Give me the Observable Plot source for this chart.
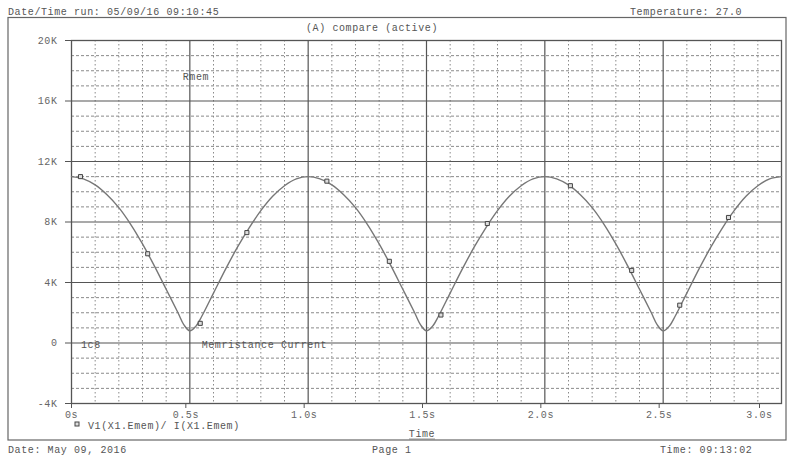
<!DOCTYPE html>
<html>
<head>
<meta charset="utf-8">
<script src="https://cdn.jsdelivr.net/npm/d3@7"></script>
<script src="https://cdn.jsdelivr.net/npm/@observablehq/plot@0.6"></script>
<style>
  html, body { margin: 0; padding: 0; background: #fff; }
  #chart { width: 790px; height: 458px; }
</style>
</head>
<body>
<div id="chart"></div>
<script>
// ---- data (time in seconds, value in K) ----
const timeS = [0, 0.05, 0.1, 0.15, 0.2, 0.25, 0.3, 0.35, 0.4, 0.45, 0.475, 0.5, 0.525, 0.55, 0.6, 0.65, 0.7, 0.75, 0.8, 0.85, 0.9, 0.95,
  1.0, 1.05, 1.1, 1.15, 1.2, 1.25, 1.3, 1.35, 1.4, 1.45, 1.475, 1.5, 1.525, 1.55, 1.6, 1.65, 1.7, 1.75, 1.8, 1.85, 1.9, 1.95,
  2.0, 2.05, 2.1, 2.15, 2.2, 2.25, 2.3, 2.35, 2.4, 2.45, 2.475, 2.5, 2.525, 2.55, 2.6, 2.65, 2.7, 2.75, 2.8, 2.85, 2.9, 2.95, 3.0];
const rmemK = [11.0, 10.85, 10.45, 9.8, 8.95, 7.85, 6.55, 5.1, 3.55, 2.0, 1.2, 0.8, 1.1, 1.75, 3.3, 4.85, 6.3, 7.6, 8.75, 9.7, 10.4, 10.85,
  11.0, 10.85, 10.45, 9.8, 8.95, 7.85, 6.55, 5.1, 3.55, 2.0, 1.2, 0.8, 1.1, 1.75, 3.3, 4.85, 6.3, 7.6, 8.75, 9.7, 10.4, 10.85,
  11.0, 10.85, 10.45, 9.8, 8.95, 7.85, 6.55, 5.1, 3.55, 2.0, 1.2, 0.8, 1.1, 1.75, 3.3, 4.85, 6.3, 7.6, 8.75, 9.7, 10.4, 10.85, 11.0];

const markerT = [0.038, 0.322, 0.544, 0.741, 1.079, 1.343, 1.561, 1.757, 2.108, 2.367, 2.57, 2.776];
const markerV = [11.0, 5.9, 1.3, 7.3, 10.7, 5.4, 1.85, 7.9, 10.4, 4.8, 2.5, 8.3];

const xTicks = [0, 0.5, 1.0, 1.5, 2.0, 2.5, 3.0];
const xTickLabels = ["0s", "0.5s", "1.0s", "1.5s", "2.0s", "2.5s", "3.0s"];
const yTicks = [-4, 0, 4, 8, 12, 16, 20];
const yTickLabels = ["-4K", "0", "4K", "8K", "12K", "16K", "20K"];

const labelText = ["Rmem", "Memristance Current", "1c8"];
const labelX = [0.47, 0.55, 0.04];
const labelY = [17.6, -0.1, -0.1];

const headerTexts = ["Date/Time run: 05/09/16 09:10:45", "Temperature: 27.0", "(A) compare (active)"];
const footerTexts = ["Date: May 09, 2016", "Page 1", "Time: 09:13:02"];
const legendText = "V1(X1.Emem)/ I(X1.Emem)";
const axisTitle = "Time";

// ---- derived tables ----
const curve = timeS.map((t, i) => ({t, v: rmemK[i]}));
const markers = markerT.map((t, i) => ({t, v: markerV[i]}));
const labels = labelText.map((s, i) => ({s, x: labelX[i], y: labelY[i]}));
const minorX = d3.range(0, 31).map(i => i / 10).filter(v => Math.round(v * 10) % 5 !== 0);
const minorY = d3.range(-4, 21).filter(v => v % 4 !== 0);
const majorX = xTicks.slice(1, -1);
const majorY = yTicks.slice(1, -1);
const fmtX = d => xTickLabels[xTicks.indexOf(d)];
const fmtY = d => yTickLabels[yTicks.indexOf(d)];

const FONT = "'Liberation Mono', 'DejaVu Sans Mono', monospace";
const FS = 10;
const LS = "0.6px";
const GRID = "#8a8a8a";
const MAJOR = "#555";

const chart = Plot.plot({
  width: 790,
  height: 458,
  marginLeft: 71,
  marginRight: 9,
  marginTop: 40,
  marginBottom: 55,
  x: {domain: [0, 3]},
  y: {domain: [-4, 20]},
  style: {fontFamily: FONT, fontSize: FS + "px", letterSpacing: LS, color: "#555", background: "#fff", overflow: "visible"},
  marks: [
    Plot.ruleX(minorX, {stroke: GRID, strokeDasharray: "1.5,2.5", strokeWidth: 1}),
    Plot.ruleY(minorY, {stroke: GRID, strokeDasharray: "3,2", strokeWidth: 1}),
    Plot.ruleX(majorX, {stroke: MAJOR, strokeWidth: 1.2}),
    Plot.ruleY(majorY, {stroke: MAJOR, strokeWidth: 1.2}),
    Plot.frame({stroke: MAJOR, strokeWidth: 1.3}),
    Plot.axisY(yTicks, {tickFormat: fmtY, tickSize: 6, tickPadding: 8, stroke: MAJOR, fill: "#666", label: null}),
    Plot.axisX([0], {tickFormat: fmtX, tickSize: 5, tickPadding: 2, stroke: MAJOR, fill: "#666", label: null}),
    Plot.axisX(xTicks.slice(1, -1), {tickFormat: fmtX, tickSize: 5, tickPadding: 2, dx: -4, stroke: MAJOR, fill: "#666", label: null}),
    Plot.axisX([3.0], {tickFormat: fmtX, tickSize: 5, tickPadding: 2, dx: -22, stroke: MAJOR, fill: "#666", label: null}),
    Plot.line(curve, {x: "t", y: "v", curve: "catmull-rom", stroke: "#777", strokeWidth: 1.4}),
    Plot.dot(markers, {x: "t", y: "v", symbol: "square", r: 2.3, stroke: "#444", fill: "#ddd", strokeWidth: 1}),
    Plot.text(labels, {x: "x", y: "y", text: "s", textAnchor: "start", fill: "#555", fontSize: FS})
  ]
});

document.getElementById("chart").appendChild(chart);

// ---- page furniture (outer box, header, footer, legend) ----
const svg = d3.select(chart);
svg.append("rect")
  .attr("x", 8).attr("y", 17.5).attr("width", 778).attr("height", 422.5)
  .attr("fill", "none").attr("stroke", "#666").attr("stroke-width", 1.2);

const addText = (txt, x, y, anchor) => svg.append("text")
  .attr("x", x).attr("y", y).attr("text-anchor", anchor || "start")
  .attr("font-family", FONT).attr("font-size", FS).attr("letter-spacing", LS)
  .attr("fill", "#555").text(txt);

addText(headerTexts[0], 8, 14.5);
addText(headerTexts[1], 630, 14.5);
addText(headerTexts[2], 372, 31, "middle");
addText(footerTexts[0], 8, 453);
addText(footerTexts[1], 372, 453);
addText(footerTexts[2], 660, 453);

// legend
svg.append("rect").attr("x", 75).attr("y", 422).attr("width", 4).attr("height", 4)
  .attr("fill", "#ddd").attr("stroke", "#444");
addText(legendText, 88, 429);

// axis title with underline
addText(axisTitle, 422, 437, "middle");
svg.append("line").attr("x1", 409).attr("x2", 435).attr("y1", 439).attr("y2", 439)
  .attr("stroke", "#777").attr("stroke-width", 0.8);
</script>
</body>
</html>
